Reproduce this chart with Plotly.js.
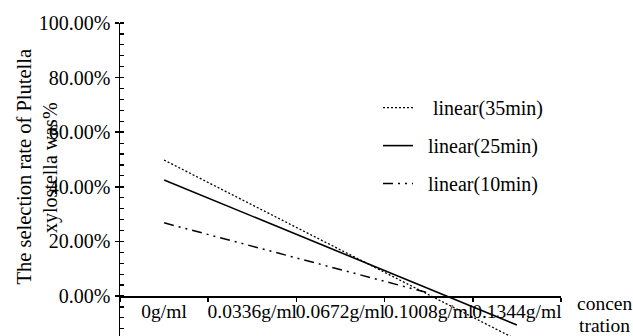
<!DOCTYPE html>
<html>
<head>
<meta charset="utf-8">
<script src="https://cdn.plot.ly/plotly-3.0.1.min.js"></script>
<style>html,body{margin:0;padding:0;background:#fff;}#chart{width:633px;height:336px;}</style>
</head>
<body>
<div id="chart"></div>
<script>
// Categories (concentration)
const categories = ["0g/ml", "0.0336g/ml", "0.0672g/ml", "0.1008g/ml", "0.1344g/ml"];
// Linear trend values (%) read at each category
const linear35 = [49.8, 33.4, 16.9, 0.5, -16.0];
const linear25 = [42.5, 29.2, 15.9, 2.6, -10.6];
const linear10 = [26.8, 18.2, 9.7, 1.1, null];
const seriesNames = ["linear(35min)", "linear(25min)", "linear(10min)"];
const yTicks = [0, 20, 40, 60, 80, 100];
const yTickText = yTicks.map(v => v.toFixed(2) + "%");

const FONT = "'Times New Roman', 'Liberation Serif', 'DejaVu Serif', serif";
const yMin = -14.65, yMax = 100;
const NB = "\u00A0";
const legendPad = [NB + NB + NB, NB + NB, NB + NB];

const traces = [
  {x: categories, y: linear35, name: legendPad[0] + seriesNames[0], type: "scatter", mode: "lines",
   line: {color: "#000", width: 1.3, dash: "2px,2px"}, legendgroup: "a"},
  {x: categories, y: linear25, name: legendPad[1] + seriesNames[1], type: "scatter", mode: "lines",
   line: {color: "#000", width: 1.6}, legendgroup: "b"},
  {x: categories, y: linear10, name: legendPad[2] + seriesNames[2], type: "scatter", mode: "lines",
   line: {color: "#000", width: 1.5, dash: "10px,5px,2px,5px,2px,5px"}, legendgroup: "c"},
  {x: categories, y: [null, null, null, null, null], yaxis: "y2", showlegend: false, hoverinfo: "skip", type: "scatter", mode: "lines"}
];

const layout = {
  width: 633, height: 336,
  margin: {l: 120, r: 72, t: 23, b: 0},
  paper_bgcolor: "#fff", plot_bgcolor: "#fff",
  font: {family: FONT, size: 20, color: "#000"},
  showlegend: true,
  legend: {x: 0.585, y: 0.792, xanchor: "left", yanchor: "top", bgcolor: "rgba(0,0,0,0)",
           font: {family: FONT, size: 20, color: "#000"}, tracegroupgap: 9, itemwidth: 30},
  xaxis: {
    type: "category", range: [-0.5, 4.5], anchor: "free", position: (0 - yMin) / (yMax - yMin),
    showline: true, linecolor: "#000", linewidth: 1.5,
    ticks: "outside", ticklen: 4, tickwidth: 1.5, tickcolor: "#000", tickson: "boundaries",
    tickangle: 0, showgrid: false, zeroline: false, ticklabelstandoff: -3,
    tickfont: {family: FONT, size: 19.5, color: "#000"}
  },
  yaxis: {
    range: [yMin, yMax], tickmode: "array", tickvals: yTicks, ticktext: yTickText,
    showline: true, linecolor: "#000", linewidth: 1.5,
    ticks: "outside", ticklen: 4, tickwidth: 1.5, tickcolor: "#000",
    minor: {ticks: "inside", ticklen: 4, dtick: 4, tick0: 0, tickwidth: 1.2, tickcolor: "#000", showgrid: false},
    showgrid: false, zeroline: false,
    tickfont: {family: FONT, size: 20, color: "#000"}
  },
  yaxis2: {
    overlaying: "y", range: [yMin, yMax], tickmode: "array", tickvals: yTicks, showticklabels: false,
    ticks: "inside", ticklen: 4, tickwidth: 1.5, tickcolor: "#000",
    showline: false, showgrid: false, zeroline: false, side: "left"
  },
  annotations: [
    {text: "The selection rate of Plutella", xref: "paper", yref: "paper", x: -0.2186, y: 0.54,
     xanchor: "center", yanchor: "middle", textangle: -90, showarrow: false,
     font: {family: FONT, size: 20.5, color: "#000"}},
    {text: "xylostella was%", xref: "paper", yref: "paper", x: -0.1565, y: 0.54,
     xanchor: "center", yanchor: "middle", textangle: -90, showarrow: false,
     font: {family: FONT, size: 20, color: "#000"}},
    {text: "concen", xref: "paper", yref: "paper", x: 1.031, y: 0.1054,
     xanchor: "left", yanchor: "middle", showarrow: false, font: {family: FONT, size: 19.5, color: "#000"}},
    {text: "tration", xref: "paper", yref: "paper", x: 1.036, y: 0.032,
     xanchor: "left", yanchor: "middle", showarrow: false, font: {family: FONT, size: 19.5, color: "#000"}}
  ]
};

Plotly.newPlot("chart", traces, layout, {staticPlot: true, displayModeBar: false});
</script>
</body>
</html>
